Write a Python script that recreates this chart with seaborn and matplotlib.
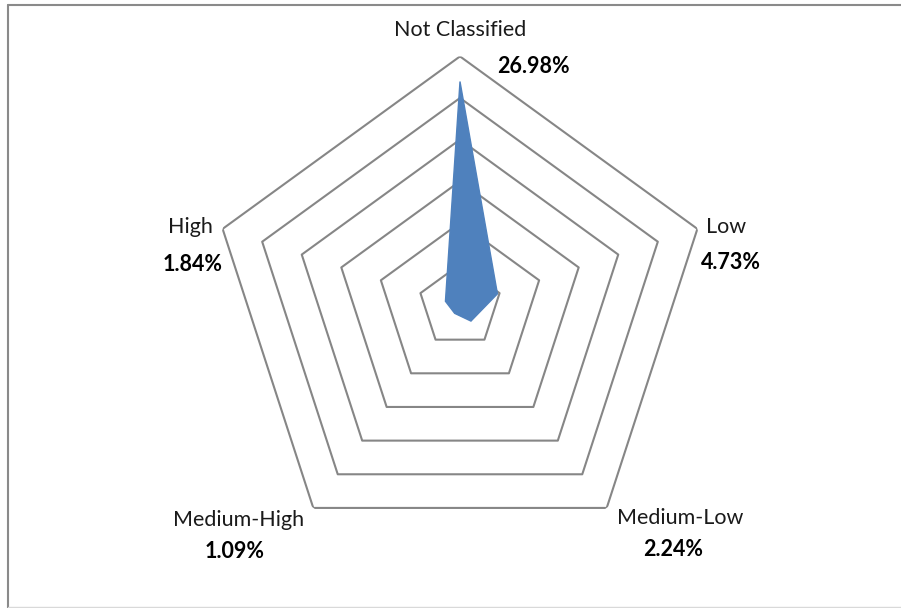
import numpy as np
import matplotlib
matplotlib.use("Agg")
import matplotlib.pyplot as plt
import seaborn as sns
import pandas as pd

categories = ["Not Classified", "Low", "Medium-Low", "Medium-High", "High"]
values = [26.98, 4.73, 2.24, 1.09, 1.84]
value_labels = ["26.98%", "4.73%", "2.24%", "1.09%", "1.84%"]
ring_levels = [5, 10, 15, 20, 25, 30]

sns.set_theme(style="white")
plt.rcParams["font.family"] = ["Lato", "DejaVu Sans"]

W, H = 901, 608
fig = plt.figure(figsize=(W / 100, H / 100), dpi=100)
fig.patch.set_facecolor("white")

cx, cy, R = 460.0, 306.0, 249.6
ax = fig.add_axes([(cx - R) / W, (H - cy - R) / H, 2 * R / W, 2 * R / H],
                  projection="polar")
ax.set_theta_offset(np.pi / 2)
ax.set_theta_direction(-1)
ax.set_ylim(0, 30)
ax.grid(False)
ax.spines["polar"].set_visible(False)
ax.set_xticks([])
ax.set_yticks([])
ax.patch.set_alpha(0)

n = len(categories)
angles = np.linspace(0, 2 * np.pi, n, endpoint=False)
closed_angles = np.concatenate([angles, angles[:1]])

# pentagon rings
for lev in ring_levels:
    df = pd.DataFrame({"theta": closed_angles, "r": [lev] * (n + 1)})
    sns.lineplot(data=df, x="theta", y="r", sort=False, ax=ax,
                 color="#868686", linewidth=1.5, estimator=None)
ax.set_xlabel("")
ax.set_ylabel("")

# data area
closed_vals = values + values[:1]
ax.fill(closed_angles, closed_vals, color="#4F81BD", edgecolor="#4F81BD",
        linewidth=1.0, zorder=3)

# labels (offsets in pixels from outer vertex)
name_off = [(0, 26), (29, 2), (73, -10.5), (-75, -12), (-32.6, 2)]
val_off = [(73, -10), (34, -34), (66, -42), (-79, -44), (-30, -36)]
for a, cat, vl, no, vo in zip(angles, categories, value_labels, name_off, val_off):
    ax.annotate(cat, xy=(a, 30), xytext=no, textcoords="offset pixels",
                ha="center", va="center", fontsize=15.5, color="#1a1a1a",
                annotation_clip=False)
    ax.annotate(vl, xy=(a, 30), xytext=vo, textcoords="offset pixels",
                ha="center", va="center", fontsize=15.5, fontweight="bold",
                color="#000000", annotation_clip=False)

# outer chart frame
fig.add_artist(plt.Line2D([8 / W, 8 / W], [0, 1 - 5 / H], transform=fig.transFigure,
                          color="#8a8a8a", linewidth=1.5))
fig.add_artist(plt.Line2D([8 / W, 1], [1 - 5 / H, 1 - 5 / H], transform=fig.transFigure,
                          color="#8a8a8a", linewidth=1.5))
fig.add_artist(plt.Line2D([8 / W, 1], [1 - 606.5 / H, 1 - 606.5 / H], transform=fig.transFigure,
                          color="#d9d9d9", linewidth=1.0))

fig.savefig("out.png", dpi=100, facecolor="white")
